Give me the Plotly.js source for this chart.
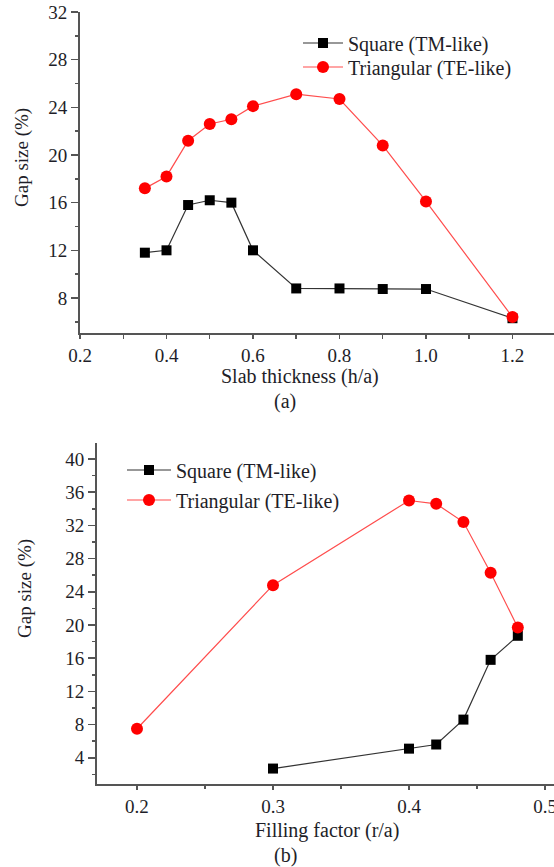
<!DOCTYPE html>
<html><head><meta charset="utf-8">
<script src="https://cdn.plot.ly/plotly-3.0.1.min.js"></script>
<style>html,body{margin:0;padding:0;background:#fff}#chart{width:554px;height:867px}</style>
</head><body><div id="chart"></div>
<script>
// ---- data ----
const thicknessA = [0.35, 0.4, 0.45, 0.5, 0.55, 0.6, 0.7, 0.8, 0.9, 1.0, 1.2];
const squareA = [11.8, 12.0, 15.8, 16.2, 16.0, 12.0, 8.8, 8.8, 8.75, 8.75, 6.3];
const triangularA = [17.2, 18.2, 21.2, 22.6, 23.0, 24.1, 25.1, 24.7, 20.8, 16.1, 6.4];
const fillingSquareB = [0.3, 0.4, 0.42, 0.44, 0.46, 0.48];
const squareB = [2.7, 5.1, 5.6, 8.6, 15.8, 18.7];
const fillingTriB = [0.2, 0.3, 0.4, 0.42, 0.44, 0.46, 0.48];
const triangularB = [7.5, 24.8, 35.0, 34.6, 32.4, 26.3, 19.7];
const seriesNames = ["Square (TM-like)", "Triangular (TE-like)"];
const yTitle = "Gap size (%)";
const xTitleA = "Slab thickness (h/a)";
const xTitleB = "Filling factor (r/a)";
const captions = ["(a)", "(b)"];

const W = 554, H = 867;
const px = v => v / W;
const py = v => 1 - v / H;
const FONT = "Liberation Serif";
const TXT = "#1e1e28";
const AX = "#555";

const sqStyle = {mode: "lines+markers", line: {color: "#333", width: 1.2},
  marker: {symbol: "square", size: 10, color: "#000"}};
const trStyle = {mode: "lines+markers", line: {color: "#ff4d4d", width: 1.2},
  marker: {symbol: "circle", size: 12, color: "#ff0000"}};

const traces = [
  Object.assign({x: thicknessA, y: squareA, name: seriesNames[0], xaxis: "x", yaxis: "y", legend: "legend"}, sqStyle),
  Object.assign({x: thicknessA, y: triangularA, name: seriesNames[1], xaxis: "x", yaxis: "y", legend: "legend3"}, trStyle),
  Object.assign({x: fillingSquareB, y: squareB, name: seriesNames[0], xaxis: "x2", yaxis: "y2", legend: "legend2"}, sqStyle),
  Object.assign({x: fillingTriB, y: triangularB, name: seriesNames[1], xaxis: "x2", yaxis: "y2", legend: "legend4"}, trStyle)
];

function axBase(extra) {
  return Object.assign({
    showgrid: false, zeroline: false, showline: true, linecolor: AX, linewidth: 2,
    ticks: "outside", ticklen: 7, tickwidth: 1.5, tickcolor: AX, ticklabeloverflow: "allow",
    tickfont: {family: FONT, size: 19, color: TXT}, mirror: false
  }, extra);
}
function minorOf(dt, len) {
  return {ticks: "outside", ticklen: len, tickwidth: 1.5, tickcolor: AX, dtick: dt, showgrid: false};
}
function ann(text, x, y, size, angle) {
  return {text: text, x: px(x), y: py(y), xref: "paper", yref: "paper", xanchor: "center", yanchor: "middle",
    showarrow: false, textangle: angle || 0, font: {size: size, family: FONT, color: TXT}};
}
function leg(x, y, iw) {
  return {x: px(x), y: py(y), xanchor: "left", yanchor: "middle", bgcolor: "rgba(0,0,0,0)",
    font: {family: FONT, size: 20, color: TXT}, itemwidth: iw};
}

const layout = {
  width: W, height: H, margin: {l: 0, r: 0, t: 0, b: 0},
  paper_bgcolor: "#fff", plot_bgcolor: "#fff",
  font: {family: FONT, color: TXT},
  xaxis: axBase({domain: [px(80), 1], range: [0.2, 1.296], dtick: 0.2, tick0: 0.2, tickformat: ".1f",
    anchor: "y", ticklen: 4, minor: minorOf(0.1, 4)}),
  yaxis: axBase({domain: [py(333), py(12)], range: [5.06, 32], dtick: 4, tick0: 0, anchor: "x",
    minor: minorOf(2, 3)}),
  xaxis2: axBase({domain: [px(97), 1], range: [0.1706, 0.5066], dtick: 0.1, tick0: 0, tickformat: ".1f",
    anchor: "y2", ticklen: 4, minor: minorOf(0.05, 3)}),
  yaxis2: axBase({domain: [py(784), py(443)], range: [0.84, 41.93], dtick: 4, tick0: 0, anchor: "x2",
    minor: minorOf(2, 3)}),
  legend: leg(298, 43, 40),
  legend3: leg(298, 67, 40),
  legend2: leg(122, 470, 44),
  legend4: leg(122, 500, 44),
  showlegend: true,
  annotations: [
    ann(yTitle, 22, 158, 19, -90),
    ann(xTitleA, 300, 376, 20),
    ann(captions[0], 285, 401, 20),
    ann(yTitle, 25, 589, 19, -90),
    ann(xTitleB, 327, 830, 20),
    ann(captions[1], 285, 855, 20)
  ]
};

Plotly.newPlot("chart", traces, layout, {displayModeBar: false, staticPlot: true});
</script>
</body></html>
